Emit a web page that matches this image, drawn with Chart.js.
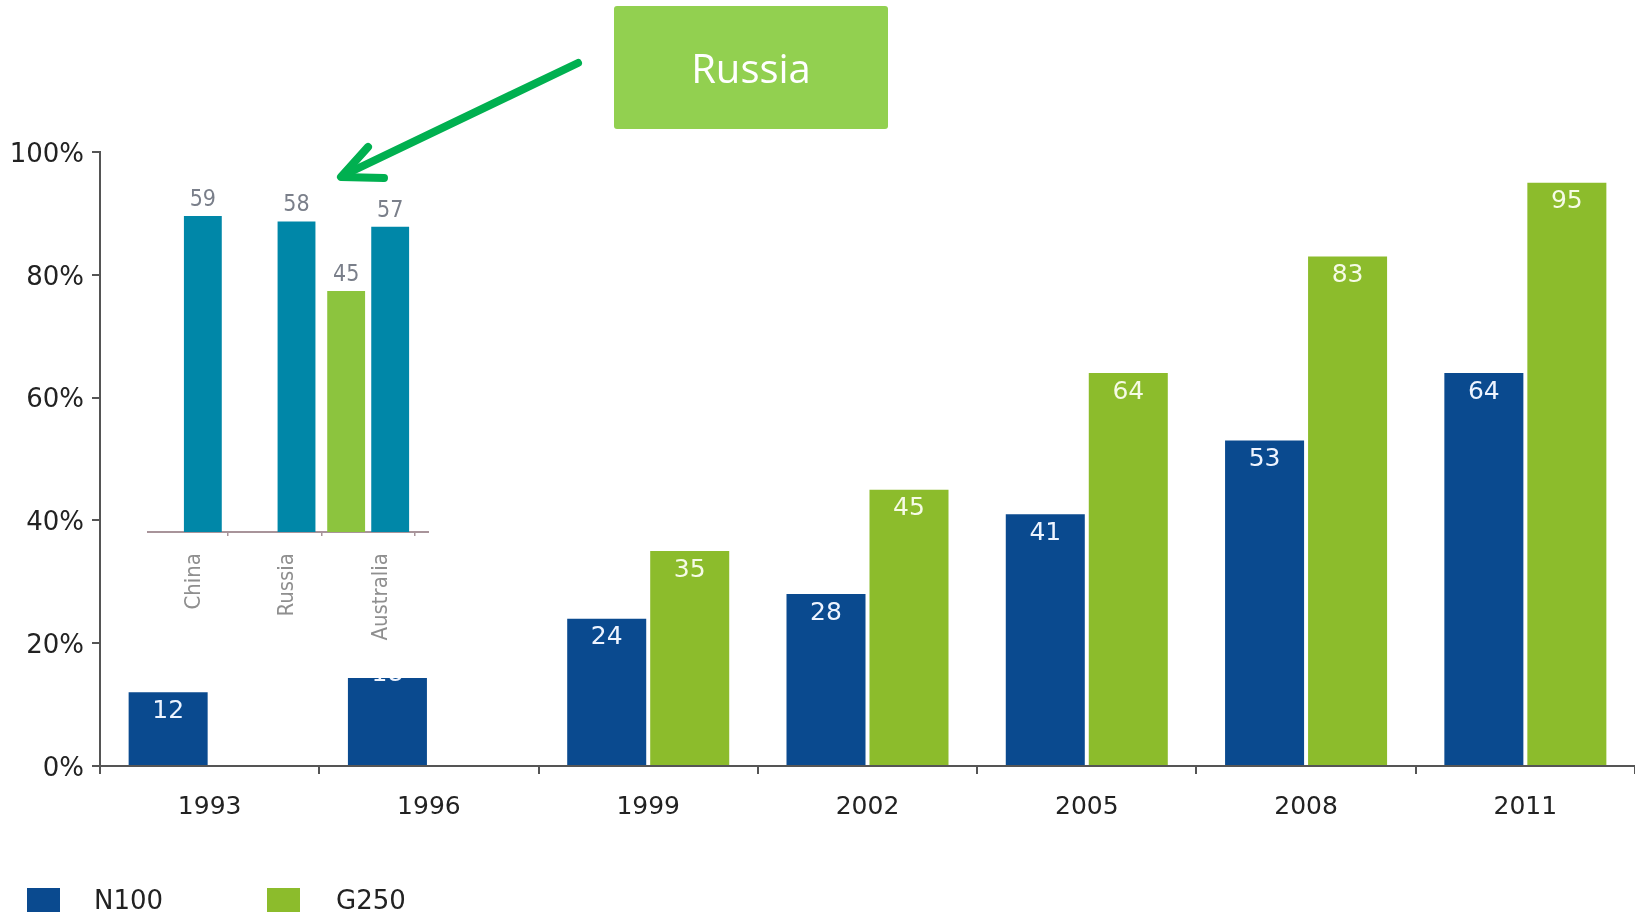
<!DOCTYPE html>
<html>
<head>
<meta charset="utf-8">
<script src="https://cdn.jsdelivr.net/npm/chart.js@4.4.1/dist/chart.umd.min.js"></script>
<style>
  html, body { margin: 0; padding: 0; background: #fff; }
  #stage { position: relative; width: 1635px; height: 916px; overflow: hidden; background: #fff; }
  #main { position: absolute; left: 0; top: 0; }
  #insetWrap { position: absolute; left: 147px; top: 183px; width: 282px; height: 495px; overflow: hidden; background: #fff; }
  #inset { position: absolute; left: -13px; top: 0; }
  #overlay { position: absolute; left: 0; top: 0; pointer-events: none; }
  .legend { position: absolute; top: 886px; font-family: "DejaVu Sans", sans-serif; font-size: 26px; color: #222; line-height: 28px; }
  .legend .sw { position: absolute; top: 2px; width: 33px; height: 24px; }
</style>
</head>
<body>
<div id="stage">
  <canvas id="main" width="1635" height="916"></canvas>
  <div id="insetWrap"><canvas id="inset" width="295" height="495"></canvas></div>
  <svg id="overlay" width="1635" height="916">
    <rect x="614" y="6" width="274" height="123" rx="3" ry="3" fill="#92D050"/>
    <text x="751" y="72" fill="#ffffff" font-family="Open Sans, sans-serif" font-size="40" text-anchor="middle" dominant-baseline="middle">Russia</text>
    <line x1="578" y1="63" x2="344" y2="175" stroke="#00B050" stroke-width="8" stroke-linecap="round"/>
    <polyline points="368,147 341,177 384,178" fill="none" stroke="#00B050" stroke-width="8" stroke-linecap="round" stroke-linejoin="round"/>
  </svg>
  <div id="legend"></div>
</div>
<script>
// ---- data ----
const categories = ['1993', '1996', '1999', '2002', '2005', '2008', '2011'];
const seriesNames = ['N100', 'G250'];
const n100Values = [12, 18, 24, 28, 41, 53, 64];
const g250Values = [null, null, 35, 45, 64, 83, 95];
const yTickValues = [0, 20, 40, 60, 80, 100];

const insetCategories = ['China', 'Russia', 'Australia'];
const insetGreenValues = [null, null, 45];
const insetTealValues = [59, 58, 57];

// ---- styles ----
const N100_COLOR = '#0a4a8f';
const G250_COLOR = '#8cbc2c';
const TEAL_COLOR = '#0087a8';
const INSET_GREEN = '#8cc43e';

const valueLabels = {
  id: 'valueLabels',
  afterDatasetsDraw(chart, args, opts) {
    const ctx = chart.ctx;
    ctx.save();
    ctx.font = opts.font;
    ctx.textAlign = 'center';
    ctx.textBaseline = 'middle';
    chart.data.datasets.forEach((ds, di) => {
      const meta = chart.getDatasetMeta(di);
      meta.data.forEach((el, i) => {
        const v = ds.data[i];
        if (v === null || v === undefined) return;
        ctx.fillStyle = (opts.colors && opts.colors[di]) || '#fff';
        ctx.fillText(String(v), el.x, el.y + opts.offset);
      });
    });
    ctx.restore();
  }
};

const extendBase = {
  id: 'extendBase',
  afterDraw(chart, args, opts) {
    if (!opts.enabled) return;
    const x = chart.scales.x;
    const ctx = chart.ctx;
    ctx.save();
    ctx.strokeStyle = opts.color;
    ctx.lineWidth = opts.width;
    ctx.beginPath();
    ctx.moveTo(x.right, x.top);
    ctx.lineTo(chart.width, x.top);
    ctx.stroke();
    ctx.restore();
  }
};

// ---- main chart ----
new Chart(document.getElementById('main'), {
  type: 'bar',
  data: {
    labels: categories,
    datasets: [
      { label: seriesNames[0], data: n100Values, backgroundColor: N100_COLOR,
        categoryPercentage: 0.757, barPercentage: 0.952 },
      { label: seriesNames[1], data: g250Values, backgroundColor: G250_COLOR,
        categoryPercentage: 0.757, barPercentage: 0.952 }
    ]
  },
  options: {
    responsive: false,
    animation: false,
    layout: { padding: { top: 152, left: 0, right: 0, bottom: 0 } },
    plugins: {
      legend: { display: false },
      tooltip: { enabled: false },
      valueLabels: { font: '25px "DejaVu Sans", sans-serif', offset: 19, colors: ['#eef4ff', '#f6fbe6'] }
    },
    scales: {
      x: {
        grid: { display: true, drawOnChartArea: false, drawTicks: true, tickLength: 8, color: '#555', lineWidth: 2, offset: true },
        border: { display: true, color: '#555', width: 2 },
        ticks: { color: '#222', font: { family: 'DejaVu Sans', size: 25 }, padding: 18, maxRotation: 0 },
        afterFit(scale) { scale.height = 150; }
      },
      y: {
        min: 0, max: 100,
        afterBuildTicks(scale) { scale.ticks = yTickValues.map(v => ({ value: v })); },
        grid: { display: true, drawOnChartArea: false, drawTicks: true, tickLength: 8, color: '#555', lineWidth: 2 },
        border: { display: true, color: '#555', width: 2 },
        ticks: { color: '#222', font: { family: 'DejaVu Sans', size: 26 }, padding: 8, labelOffset: 3, callback: v => v + '%' },
        afterFit(scale) { scale.width = 100; }
      }
    }
  },
  plugins: [valueLabels]
});

// ---- inset chart ----
new Chart(document.getElementById('inset'), {
  type: 'bar',
  data: {
    labels: insetCategories,
    datasets: [
      { label: 'green', data: insetGreenValues, backgroundColor: INSET_GREEN,
        categoryPercentage: 0.94, barPercentage: 0.86 },
      { label: 'teal', data: insetTealValues, backgroundColor: TEAL_COLOR,
        categoryPercentage: 0.94, barPercentage: 0.86 }
    ]
  },
  options: {
    responsive: false,
    animation: false,
    layout: { padding: { top: 1, left: 0, right: 14, bottom: 0 } },
    plugins: {
      legend: { display: false },
      tooltip: { enabled: false },
      valueLabels: { font: '23px "Liberation Sans Narrow", "DejaVu Sans Condensed", sans-serif', offset: -16, colors: ['#7a7f8a', '#7a7f8a'] },
      extendBase: { enabled: true, color: '#a8949a', width: 2 }
    },
    scales: {
      x: {
        grid: { display: true, drawOnChartArea: false, drawTicks: true, tickLength: 4, color: '#a8949a', lineWidth: 1.5, offset: true },
        border: { display: true, color: '#a8949a', width: 2 },
        ticks: { color: '#8f8f8f', font: { family: '"Liberation Sans Narrow", "DejaVu Sans Condensed", sans-serif', size: 22 },
                 minRotation: 90, maxRotation: 90, padding: 17, labelOffset: 13, autoSkip: false },
        afterFit(scale) { scale.height = 146; }
      },
      y: { display: false, min: 0, max: 65 }
    }
  },
  plugins: [valueLabels, extendBase]
});

// ---- legend (HTML) ----
const legendColors = [N100_COLOR, G250_COLOR];
const legendPos = [[27, 94], [267, 336]];
const legendEl = document.getElementById('legend');
seriesNames.forEach((name, i) => {
  const sw = document.createElement('div');
  sw.className = 'legend';
  sw.style.left = legendPos[i][0] + 'px';
  sw.innerHTML = '<div class="sw" style="left:0;background:' + legendColors[i] + '"></div>';
  legendEl.appendChild(sw);
  const tx = document.createElement('div');
  tx.className = 'legend';
  tx.style.left = legendPos[i][1] + 'px';
  tx.textContent = name;
  legendEl.appendChild(tx);
});
</script>
</body>
</html>
